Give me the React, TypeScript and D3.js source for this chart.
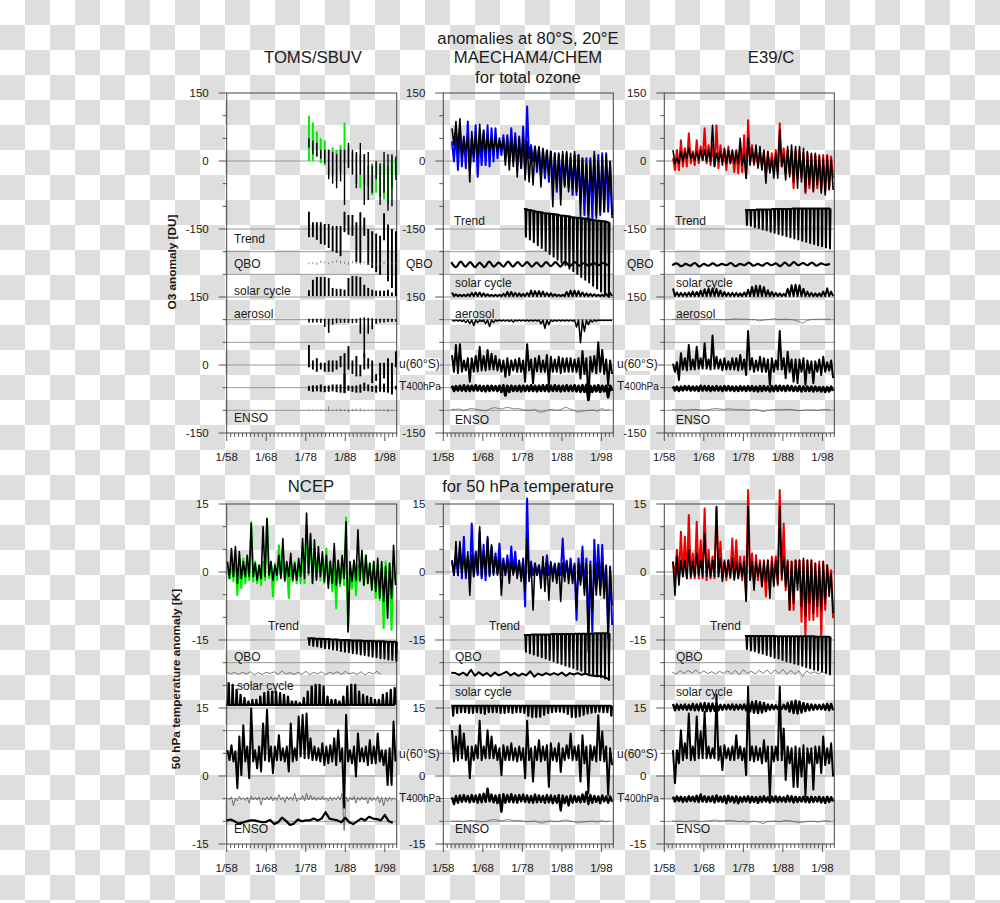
import React from "react";
import * as d3 from "d3";

// ---------- TOMS/SBUV (total ozone, DU) ----------
const tomsObsHi = [100,85,65,50,45,25,30,25,35,85,35,20,15,15,15,-10,-5,-5,-10,-5,-10,10,5];
const tomsObsLo = [0,0,10,-5,-10,-30,-35,-45,-25,-5,-15,-30,-50,-60,-55,-55,-75,-70,-80,-85,-95,-60,-30];
const tomsFitHi = [50,45,40,25,25,25,20,15,25,25,40,25,20,40,15,20,-10,0,-5,20,15,15,10];
const tomsFitLo = [30,15,10,5,-5,-40,-50,-60,-45,-97,-15,-30,-60,-30,-97,-86,-70,-40,-97,-70,-110,-100,-42];
const tomsTrendHi = [-112,-135,-135,-135,-139,-139,-143,-143,-143,-112,-119,-119,-135,-113,-125,-150,-155,-160,-165,-115,-140,-150,-155];
const tomsTrendLo = [-168,-168,-174,-183,-185,-192,-199,-203,-210,-157,-163,-165,-223,-225,-165,-229,-236,-245,-251,-175,-265,-280,-289];
const tomsQboHi = [2,3,2,6,4,2,5,7,6,4,3,6,5,3,5,4,2,1,3,4,5,3,2];
const tomsQboLo = [-2,-1,-3,1,0,-2,1,2,0,-1,-3,0,-1,-3,0,-2,-4,-5,-3,-1,0,-2,-3];
const tomsSolarHi = [-285,-262,-256,-256,-256,-258,-280,-282,-282,-284,-258,-254,-254,-256,-273,-280,-284,-286,-286,-286,-284,-290,-285];
const tomsAerHi = [3,3,3,3,3,3,3,4,3,3,3,3,3,5,6,5,4,3,3,3,3,3,2];
const tomsAerLo = [-5,-5,-5,-6,-15,-28,-10,-7,-6,-6,-6,-7,-6,-30,-81,-30,-20,-8,-6,-5,-4,-4,-3];
const tomsUHi = [44,10,15,5,5,10,10,10,20,26,42,10,20,0,25,15,10,-20,5,5,15,5,30];
const tomsULo = [-5,-10,-15,-10,-15,-15,-15,-10,-5,-62,-10,-20,-25,-25,-10,-8,-40,-35,-45,-30,-30,-65,-5];
const tomsTHi = [5,6,6,8,5,6,8,8,8,32,6,5,6,8,12,8,5,6,8,10,25,30,5];
const tomsTLo = [-6,-8,-7,-8,-9,-8,-7,-9,-10,-10,-6,-8,-10,-10,-6,-7,-8,-10,-8,-9,-10,-8,-3];
const tomsEnsoHi = [1,1,1,1,1,8,1,1,2,1,1,2,3,3,1,1,1,2,1,1,2,1,0];
const tomsEnsoLo = [-1,-1,-1,-1,-2,-3,-2,-2,-3,-3,-5,-2,-2,-3,-3,-2,-1,-2,-2,-3,-5,-3,-1];

// ---------- MAECHAM4/CHEM (total ozone) ----------
const mtObsHi = [43,65,72,54,87,50,79,57,68,79,72,72,50,57,57,72,61,54,76,120,35,32,29,24,21,21,17,17,13,17,6,13,13,6,6,6,13,13,17,17,-1];
const mtObsLo = [-1,-20,-12,-16,-20,-1,-35,-9,-9,-12,-1,6,13,6,-1,-1,-9,-16,-24,6,-1,-24,-31,-38,-46,-53,-68,-46,-53,-60,-75,-75,-90,-119,-134,-126,-119,-119,-112,-112,-119];
const mtFitHi = [72,87,93,50,54,65,61,81,65,57,50,54,46,50,50,50,54,50,54,43,28,32,32,28,24,21,17,13,21,21,17,21,13,6,-5,-1,21,-1,10,13,-1];
const mtFitLo = [35,21,10,21,-46,10,6,21,17,21,21,21,28,-9,-20,-12,-35,-16,-42,-46,-53,-12,-57,-20,-31,-101,-57,-97,-57,-68,-60,-68,-123,-75,-119,-68,-126,-112,-112,-68,-126];
const mtTrendHi = [-106,-108,-110,-112,-113,-115,-116,-117,-118,-120,-121,-122,-124,-125,-126,-127,-128,-130,-131,-132,-133,-135];
const mtTrendLo = [-167,-173,-179,-186,-192,-198,-205,-211,-218,-224,-230,-237,-243,-249,-256,-262,-268,-275,-281,-288,-294,-300];
const mtQbo = [5,-6,6,-5,5,-6,4,-6,6,-5,4,-5,6,-5,5,-4,5,-5,4,-5,5,-4,5,-5,6,-4,5,-3,3,-3,3,-2,3,-2];
const mtSolarHi = [8,4,3,3,4,7,8,8,6,4,3,3,3,5,9,9,7,6,5,7,12,11,11,10,7,6,4,3,3,9,12,12,11,8,6,5,4,3,3,5,7];
const mtAer = [-2,-2,-3,-5,-8,-12,-5,-3,-8,-14,-5,-2,-2,-2,-3,-4,-2,-2,-2,-2,-2,-2,-8,-18,-10,-3,-2,-2,-2,-2,-2,-15,-50,-25,-10,-4,-2,-1,-1,-1,-1];
const mtUHi = [22,44,46,10,15,15,20,40,20,33,25,20,12,10,15,10,12,15,10,46,12,15,20,10,22,18,12,18,15,15,15,12,15,31,15,18,20,50,33,12,10];
const mtULo = [-15,-18,-15,-12,-37,-15,-14,-12,-12,-10,-10,-12,-15,-26,-22,-12,-15,-15,-37,-12,-40,-14,-15,-15,-44,-15,-15,-18,-15,-15,-15,-15,-30,-20,-77,-15,-18,-15,-20,-44,-20];
const mtTHi = [5,4,5,6,5,5,6,5,4,5,5,4,5,6,5,5,4,5,5,5,6,5,5,6,6,5,6,5,5,6,5,6,5,6,7,5,5,6,5,5,5];
const mtTLo = [-6,-5,-5,-6,-6,-5,-5,-6,-7,-6,-5,-6,-8,-16,-8,-6,-6,-7,-6,-6,-6,-7,-6,-6,-7,-6,-6,-7,-6,-6,-6,-7,-8,-8,-26,-8,-7,-8,-7,-20,-6];
const mtEnso = [1,1,2,-1,1,3,2,0,-1,-2,3,5,3,2,6,4,2,3,1,-1,-1,1,-4,-5,-2,1,0,-1,2,6,2,-1,-5,-3,-2,-1,0,-3,3,-1,1];

// ---------- E39/C (total ozone) ----------
const etObsHi = [6,24,46,28,61,21,46,32,72,35,35,79,35,24,32,21,24,32,57,90,35,24,21,21,21,17,24,83,28,24,21,24,21,17,17,13,13,13,13,13,10];
const etObsLo = [-20,-20,-12,-12,-5,-9,-5,2,-5,-9,-12,-16,-1,-20,-5,-24,-27,-24,-38,-1,-9,-12,-16,-31,-20,-24,-24,-12,-24,-27,-60,-38,-38,-71,-60,-64,-60,-64,-68,-60,-38];
const etFitHi = [24,6,21,21,28,17,21,24,24,24,79,17,21,28,24,24,21,50,13,50,28,35,32,24,21,6,17,68,13,32,35,32,32,28,21,17,17,10,6,10,2];
const etFitLo = [-5,-5,-1,6,6,2,2,2,-1,-1,-12,-1,-9,-5,-5,-5,-5,-9,-38,-9,-5,-16,-20,-49,-27,-38,-38,-12,-42,-35,-46,-60,-46,-68,-53,-68,-53,-71,-75,-64,-64];
const etTrendHi = [-108,-108,-108,-107,-107,-107,-107,-106,-106,-106,-106,-106,-105,-105,-105,-105,-105,-105,-105,-105,-105,-105];
const etTrendLo = [-141,-143,-146,-148,-151,-153,-156,-158,-161,-163,-166,-168,-171,-173,-176,-178,-181,-183,-186,-188,-191,-193];
const etQbo = [-2,2,-4,1,-3,3,-5,1,-3,2,-3,1,-2,3,-4,1,-2,4,-3,1,-3,3,-2,2,-4,4,-3,5,-2,3,-2,4,-3,2,-1,1];
const etSolarHi = [17,8,7,7,8,10,9,12,15,17,17,16,12,9,7,7,7,6,8,14,20,23,23,20,13,9,7,6,5,16,24,25,24,16,10,7,6,6,10,17,10];
const etAer = [0,0,0,0,-1,1,0,-1,0,1,0,0,-1,-1,-1,0,1,0,0,0,-1,-1,-4,-2,-1,0,1,-1,0,0,-1,-2,-5,-9,-3,-1,0,0,0,0,0];
const etUHi = [3,6,26,15,44,12,40,15,48,12,65,18,12,15,8,15,15,22,12,75,15,10,18,15,12,15,10,75,15,29,12,12,12,15,10,8,8,12,18,6,10];
const etULo = [-15,-33,-10,-12,-10,-10,-8,-8,-8,-10,-8,-8,-12,-10,-10,-10,-12,-10,-22,-10,-15,-12,-15,-15,-44,-15,-10,-10,-29,-15,-37,-40,-15,-44,-18,-40,-15,-22,-15,-12,-29];
const etTHi = [4,3,3,4,4,3,3,5,4,4,3,4,3,4,4,3,3,4,3,4,4,3,4,4,3,4,5,5,4,5,4,3,4,3,3,3,3,2,2,2,3];
const etTLo = [-5,-6,-5,-4,-5,-5,-6,-5,-5,-6,-5,-5,-6,-5,-5,-6,-6,-5,-6,-5,-6,-7,-6,-5,-7,-6,-6,-5,-6,-5,-6,-6,-7,-6,-6,-7,-6,-7,-8,-7,-6];
const etEnso = [1,0,1,-1,0,1,1,0,-1,0,2,3,2,1,2,2,1,0,1,-1,0,1,-1,-4,-1,0,1,0,1,1,1,0,-2,-1,0,0,0,-1,1,1,0];

// ---------- NCEP (50 hPa temperature, K) ----------
const nbObsHi = [1.5,3,3.7,2.3,3,2.3,11.1,2.3,1.5,2.3,11.8,2.3,1.9,5.9,2.3,1.9,3,2.3,1.5,3.7,10.3,8.1,5.2,3.7,3.7,5.2,2.6,1.5,2.3,2.6,12,1.5,2.6,1.5,3,3.7,1.9,2.3,1.2,1.9,2.3,1.9,2.3];
const nbObsLo = [-1.4,-2.1,-5.1,-3.6,-2.5,-1.8,-2.1,-2.5,-2.9,-1.8,-1.4,-5.4,-1.8,-1,-2.1,-5.8,-2.1,-2.5,-2.5,-2.5,-.7,-2.5,-1.4,-1.8,-2.5,-2.5,-4.3,-8,-3.2,-2.9,-13.2,-3.6,-5.1,-2.1,-2.9,-2.5,-3.2,-5.8,-6.2,-12.4,-7.3,-12.8,-2.1];
const nbFitHi = [2.3,5.2,5.6,4.5,2.3,3.7,10.7,1.9,1.5,10,11.8,2.3,1.5,3.7,7.4,2.3,4.1,1.9,3,7.4,13,8.5,7.1,5.6,4.5,3.7,2.3,6.3,2.6,3.7,11.1,2.3,2.6,9.3,4.8,3.7,1.9,2.3,3,2.3,1.2,1.9,5.9];
const nbFitLo = [-1.4,-1,-2.5,-1.4,-1,-1,-1,-1.8,-1.4,-1,-.7,-1.8,-.7,-1.4,-1.8,-1,-1.8,-1.8,-1,-1.4,-.3,-2.5,-1.8,-1,-2.1,-3.6,-2.5,-2.9,-2.5,-1.4,-13.2,-2.1,-1.8,-1.8,-2.9,-2.5,-4,-4.3,-5.8,-6.5,-10.2,-5.8,-2.9];
const nbTrendHi = [-14.6,-14.6,-14.7,-14.7,-14.8,-14.8,-14.9,-14.9,-15,-15,-15,-15.1,-15.1,-15.1,-15.2,-15.2,-15.2,-15.3,-15.3,-15.3,-15.4,-15.4,-15.4];
const nbTrendLo = [-16.1,-16.3,-16.4,-16.6,-16.8,-16.9,-17.1,-17.2,-17.4,-17.6,-17.7,-17.9,-18,-18.2,-18.3,-18.5,-18.7,-18.8,-19,-19.1,-19.3,-19.4,-19.6];
const nbQbo = [.3,-.2,.2,-.3,.2,-.2,.3,-.4,.1,-.3,.2,-.1,.3,-.3,.5,-.2,.1,-.3,.2,-.3,.4,-.4,.2,-.2,.3,-.4,.2,-.1,.3,-.3,.4,-.2,.1,-.3,.3,-.4,.2,-.2,.4,-.3];
const nbSolarHi = [4.8,4.4,3.3,2.2,1.5,.7,1.1,1.1,1.8,2.6,2.9,2.9,2.9,2.6,2.2,1.8,.7,.7,.4,1.5,2.9,4,4.4,4.4,4,1.8,1.1,1.1,.7,1.8,4,4.4,4.4,2.9,2.2,1.8,1.5,1.1,1.1,2.2,2.6,3.3,3.7];
const nbUHi = [.7,1.8,.4,3.7,6.2,1.5,9.9,.7,1.5,6.6,9.6,1.5,1.5,4,1.1,1.5,6.6,1.1,8.1,8.5,8.8,3.3,1.5,1.1,2.2,1.5,1.8,3.3,5.1,1.1,8.5,.7,1.5,4.4,1.1,1.5,2.9,1.5,4.4,.7,.7,1.1,7];
const nbULo = [-1.5,-1.8,-7.7,-4.8,-1.8,-5.5,-1.8,-3.3,-4,-1.5,-1.8,-4.4,-1.5,-1.5,-1.8,-4,-1.8,-1.5,-.7,-1.1,-1.1,-1.5,-1.5,-1.8,-2.6,-2.2,-1.8,-2.6,-1.8,-12,-1.8,-2.2,-5.1,-1.8,-1.8,-2.6,-2.2,-2.2,-1.8,-2.6,-7,-7,-1.8];
const nbTHi = [.2,.4,.1,.5,.2,.3,.6,.3,.4,.2,.4,.5,.3,.9,.3,.5,.4,1.2,.2,.7,1.2,.8,.4,.3,.5,.2,.4,.3,.5,1.2,.4,.3,.5,.3,.4,.3,.3,.2,.5,.3,.3,.4,.2];
const nbTLo = [-.3,-1.6,-.5,-.3,-.4,-1,-.3,-.3,-1.4,-.3,-.3,-.5,-.4,-.3,-.8,-.3,-.4,-.6,-.3,-.5,-.3,-.3,-.4,-.3,-.3,-.5,-.4,-.3,-.3,-7,-.6,-.3,-1,-.4,-.3,-1.1,-.5,-.4,-.9,-1.6,-.6,-.4,-.3];
const nbEnso = [.2,.4,0,-.5,-.3,0,.2,.2,0,-.2,-.1,.3,-.6,-.2,.8,.1,-.8,-.5,.4,0,.2,.2,.6,.2,.6,2,.6,.4,.2,-.2,.8,-.2,-.6,0,.6,.2,1,.6,.5,.2,1.4,0,-.3];

// ---------- MAECHAM4/CHEM (50 hPa temperature) ----------
const mbObsHi = [2.6,3.7,6,7.8,3.4,10.7,4.5,8.9,6,7.4,5.6,4.1,6.3,3,3.7,5.6,4.5,2.3,3,16.2,2.3,1.9,1.5,1.5,3.7,1.9,1.9,1.9,7.4,2.3,3,1.9,3,5.6,3,2.3,7.1,6,6,1.5,1.2];
const mbObsLo = [-.7,-.7,-1.4,-1.4,-1.4,-1,-.7,-1.4,-1.8,-.7,-.3,-.3,-.7,-.7,-.7,-.3,-.7,-1.4,-7.6,-1.4,-.7,-.7,-1.4,-.7,-.7,-.7,-1.4,-.7,-1,-1.4,-1.4,-10.6,-2.1,-3.6,-13.5,-13.5,-3.2,-3.6,-4.3,-13.5,-11.7];
const mbFitHi = [2.3,6.7,6.7,3.7,4.5,3.7,4.1,10,4.5,7.8,6,3.4,3,2.6,2.6,2.3,1.9,2.6,2.3,7.4,1.9,1.9,1.5,3.4,2.3,2.3,1.5,1.9,1.9,2.6,1.5,1.5,1.9,1.9,1.9,1.5,1.5,1.9,1.9,1.2,.8];
const mbFitLo = [-.7,-.7,-.3,-.7,-5.1,-1,-.3,-1,-.7,-1,-.7,-.7,-5.1,-.7,-2.5,-.7,-1.4,-2.1,-4.3,-2.1,-8.4,-.7,-3.6,-4.3,-6.2,-2.1,-2.5,-6.5,-2.1,-2.5,-2.5,-8,-2.9,-5.1,-17.6,-8.7,-5.1,-5.1,-5.8,-14.6,-7.3];
const mbTrendHi = [-13.9,-13.9,-13.8,-13.8,-13.8,-13.8,-13.8,-13.7,-13.7,-13.7,-13.7,-13.7,-13.7,-13.6,-13.6,-13.6,-13.6,-13.6,-13.5,-13.5,-13.5,-13.5];
const mbTrendLo = [-17.6,-17.9,-18.2,-18.5,-18.8,-19.1,-19.4,-19.7,-20,-20.3,-20.6,-20.9,-21.2,-21.5,-21.8,-22.1,-22.4,-22.7,-23,-23.2,-23.5,-23.8];
const mbQbo = [.3,.2,-.2,.3,-.3,.9,-.4,.4,-.3,.2,-.5,.3,-.3,.1,.5,-.3,.2,-.4,.1,-.3,.6,-.6,.1,-.3,.2,-.2,.2,-.2,.3,-.4,.2,-.1,.2,-.2,.1,-.3,-.4,-.5,-.4,-.8,-1.2];
const mbSolarLo = [-2.2,-1.6,-1.4,-1.4,-1.6,-1.6,-1.4,-1.6,-1.8,-1.4,-1.4,-1.4,-1.6,-1.6,-1.4,-1.6,-1.4,-1.4,-1.6,-2.2,-2.5,-2.5,-2.4,-2,-1.6,-1.4,-1.3,-1.3,-1.4,-1.8,-2.5,-2.5,-2.3,-2,-1.7,-1.5,-1.4,-1.3,-1.4,-1.4,-2.2];
const mbUHi = [5.1,3.7,6.2,4.4,1.5,1.5,1.8,7.2,1.5,5.1,3.7,1.8,1.1,1.8,1.5,2.2,1.1,1.5,1.1,7.2,1.1,1.5,2.9,1.5,1.8,2.2,1.1,2.2,1.1,1.8,4.4,1.5,1.8,4,1.5,1.8,1.5,8.4,4.8,1.5,1.1];
const mbULo = [-1.8,-1.5,-1.1,-1.5,-5.5,-1.5,-1.1,-1.5,-1.1,-1.1,-1.1,-1.5,-4.8,-1.5,-1.5,-1.5,-1.8,-1.5,-5.5,-1.5,-6.2,-1.5,-1.8,-1.5,-7.4,-1.5,-1.8,-4.1,-1.5,-1.1,-1.5,-1.5,-6.2,-2.2,-8.8,-1.5,-1.8,-1.5,-1.8,-9.2,-2.6];
const mbTHi = [.3,.6,.7,.8,.6,.8,.7,.9,1.1,2.2,.9,.7,.8,1,.8,1,.7,.8,.9,.7,.6,.9,.7,.6,.8,.7,.6,.8,.7,.5,.7,.6,.5,.9,1.5,.8,.6,.5,.7,.5,.5];
const mbTLo = [-1.2,-.9,-.7,-.6,-.8,-.7,-.9,-.8,-.7,-.6,-.8,-1,-2.9,-.9,-.7,-.8,-.9,-.6,-.7,-.8,-.9,-.8,-.7,-.9,-.8,-1,-.9,-2.6,-1,-1.5,-.9,-.7,-.8,-.7,-1.2,-.9,-.7,-1,-.6,-.9,-.7];
const mbEnso = [.1,0,.1,-.1,.1,.2,.1,0,-.1,0,.3,.4,.2,.1,.4,.3,.1,.2,.1,-.1,0,.1,-.2,-.4,-.1,.1,0,-.1,.2,.3,.1,-.1,-.3,-.2,-.1,0,0,-.2,.2,-.1,.1];

// ---------- E39/C (50 hPa temperature) ----------
const ebObsHi = [2.3,4.9,8.9,7.8,12.6,4.1,11.1,7,14,4.9,3.4,14.4,6.7,2.6,2.6,7.4,7,3.4,3.4,18.1,4.1,3.7,2.6,2.6,2.6,3.4,3.4,18.1,10.7,2.6,2.3,2.6,2.6,2.6,2.6,2.6,1.9,2.3,2.3,1.5,.4];
const ebObsLo = [-1.4,-1.4,-1,-1.4,-1.4,-1.4,-1.4,-1.4,-1.8,-1.4,-1.4,-1,-1.4,-1.8,-1.4,-1.4,-1.4,-1.8,-6.2,-1.8,-2.5,-1.8,-3.2,-5.4,-4,-1.8,-2.9,-1.8,-4,-8.4,-8.4,-2.5,-11,-13.9,-10.6,-10.6,-9.8,-14.3,-8.4,-3.2,-10.2];
const ebFitHi = [2.3,3.4,2.6,2.6,4.9,2.3,4.1,2.6,8.5,2.6,2.6,14.4,3,2.3,2.6,3,2.3,1.9,2.3,14.4,2.3,2.3,1.9,2.3,2.6,2.3,2.6,14.4,3.4,2.3,2.3,2.6,2.6,3,2.6,2.6,1.9,1.5,2.3,1.5,-.3];
const ebFitLo = [-5.1,-2.9,-1,-1.4,-1,-1,-.7,-1,-1,-1,-1,-1,-2.1,-1,-1,-1.8,-1.4,-1,-6.5,-1.8,-4,-1,-3.2,-2.1,-5.8,-3.2,-2.5,-1.4,-3.2,-8.4,-6.9,-4,-7.6,-9.8,-6.9,-9.1,-7.6,-8.4,-6.9,-5.4,-9.1];
const ebTrendHi = [-14.1,-14.1,-14.1,-14.1,-14.1,-14.1,-14.1,-14.1,-14.2,-14.2,-14.2,-14.2,-14.2,-14.2,-14.2,-14.2,-14.2,-14.2,-14.3,-14.3,-14.3,-14.3];
const ebTrendLo = [-17,-17.3,-17.5,-17.8,-18,-18.3,-18.6,-18.9,-19.1,-19.4,-19.7,-19.9,-20.2,-20.4,-20.7,-21,-21.2,-21.5,-21.7,-22,-22.3,-22.6];
const ebQbo = [.1,-.3,.4,-.2,.5,-.1,.6,-.2,.4,-.2,.2,-.3,.3,-.2,.4,-.3,.5,-.5,.7,-.2,.3,-.3,.5,-.2,.6,-.3,.6,-.2,.7,-.4,.5,-.3,.4,-.8,.4,-.2,.2,-.3,.2,-.2];
const ebSolarHi = [.7,.6,.5,.6,.5,.7,.6,.8,.9,.8,.8,.7,.5,.5,.5,.6,.5,.5,.6,.9,1.2,1.3,1.1,.9,.6,.5,.4,.4,.5,.9,1.2,1.4,1.2,.9,.7,.6,.5,.5,.6,.7,.7];
const ebSolarLo = [-.7,-.6,-.5,-.6,-.6,-.7,-.7,-.8,-.9,-.9,-.8,-.7,-.6,-.5,-.5,-.6,-.5,-.5,-.7,-1,-1.2,-1.3,-1.2,-.9,-.6,-.5,-.4,-.4,-.5,-1,-1.3,-1.4,-1.2,-.9,-.7,-.6,-.5,-.5,-.6,-.7,-.7];
const ebUHi = [.7,.7,5.1,2.2,8.8,1.5,8.1,4.8,9.2,1.5,1.1,12.9,1.5,1.8,1.1,1.5,4,1.5,1.1,14.7,1.5,1.5,1.1,2.9,1.5,1.5,1.5,14.7,5.5,1.5,1.1,1.5,1.1,1.8,1.1,1.1,1.5,1.5,3.7,1.1,2.2];
const ebULo = [-6.6,-2.2,-1.5,-1.1,-1.5,-1.5,-1.1,-1.1,-1.1,-1.1,-1.1,-1.5,-3.7,-1.1,-1.5,-1.5,-1.1,-1.5,-4.8,-1.5,-1.8,-1.5,-2.2,-1.8,-9.5,-1.8,-1.5,-1.5,-5.9,-2.2,-7.4,-7.4,-5.1,-9.5,-2.2,-8,-2.2,-4.4,-2.6,-2.2,-5.1];
const ebTHi = [.4,.5,.4,.3,.5,.4,.6,.9,.5,.4,.5,.7,.4,.5,.6,.4,.5,.3,.4,.5,.4,.3,.4,.5,.3,.4,.5,.4,.3,.6,.5,.4,.3,.4,.3,.4,.3,.4,.3,.4,.3];
const ebTLo = [-.6,-.5,-.7,-.6,-.5,-.6,-.7,-.6,-.7,-.6,-.8,-.6,-.7,-1,-.6,-.8,-1,-.7,-.6,-.8,-.7,-.9,-.7,-.6,-.8,-.6,-.7,-.6,-.7,-.6,-.8,-.7,-.6,-.7,-.8,-.7,-.6,-.8,-.9,-.7,-.6];
const ebEnso = [.1,0,.1,-.1,0,.1,.1,-.1,0,.1,.2,.3,.1,.1,.2,.2,.1,-.1,.1,-.2,-.1,0,-.2,-.5,-.1,0,.1,-.1,.1,.2,.1,-.1,-.3,-.2,-.1,0,0,-.2,.1,.1,0];

// ---------- axis text ----------
const yearTicks = [1958, 1968, 1978, 1988, 1998];
const yearLabels = ["1/58", "1/68", "1/78", "1/88", "1/98"];
const ozoneTickLabels = ["150", "0", "-150", "150", "0", "-150"];
const tempTickLabels = ["15", "0", "-15", "15", "0", "-15"];

type Series = { start: number; hi: number[]; lo?: number[] | number; base?: number; w: number; color?: string; mode?: "zig" | "bar" | "up" | "down" | "broken" | "line"; step?: number; smooth?: boolean };
type Label = { t: string; x: number; y: number };

const INK = "#000";
const THIN = "#555";

function tomsSeries(): Series[] {
  const s = 1978.3;
  return [
    { start: s, hi: tomsObsHi, lo: tomsObsLo, w: 2, color: "#00ee00", mode: "broken" },
    { start: s, hi: tomsFitHi, lo: tomsFitLo, w: 1.4, mode: "broken" },
    { start: s, hi: tomsTrendHi, lo: tomsTrendLo, w: 1.9, mode: "broken" },
    { start: s, hi: tomsQboHi, lo: tomsQboLo, base: -226, w: 0.7, color: THIN, mode: "broken" },
    { start: s, hi: tomsSolarHi, lo: -298, w: 1.9, mode: "broken" },
    { start: s, hi: tomsAerHi, lo: tomsAerLo, base: -351, w: 1.6, mode: "broken" },
    { start: s, hi: tomsUHi, lo: tomsULo, base: -450, w: 1.9, mode: "broken" },
    { start: s, hi: tomsTHi, lo: tomsTLo, base: -501, w: 2, mode: "broken" },
    { start: s, hi: tomsEnsoHi, lo: tomsEnsoLo, base: -549, w: 0.7, color: THIN, mode: "broken" },
  ];
}
function modelTop(c: string, o: number[][], f: number[][], tr: number[][], q: number[], qStep: number, solar: Series, aer: Series, u: number[][], tt: number[][], enso: number[], qw: number, tw: number): Series[] {
  const s = 1960;
  return [
    { start: s, hi: o[0], lo: o[1], w: 2, color: c },
    { start: s, hi: f[0], lo: f[1], w: 1.6 },
    { start: 1978.4, hi: tr[0], lo: tr[1], w: 2, mode: "down" },
    { start: s, hi: q, base: -228, w: qw, mode: "line", step: qStep, smooth: true },
    solar, aer,
    { start: s, hi: u[0], lo: u[1], base: -450, w: 2 },
    { start: s, hi: tt[0], lo: tt[1], base: -501, w: tw },
    { start: s, hi: enso, base: -549, w: 0.7, color: THIN, mode: "line" },
  ];
}

const panelsTop: { x: number; labels: Label[]; series: Series[] }[] = [
  { x: 226.7, series: tomsSeries(), labels: [
    { t: "Trend", x: 234, y: 239 }, { t: "QBO", x: 234, y: 264 }, { t: "solar cycle", x: 234, y: 291 }, { t: "aerosol", x: 234, y: 314 }, { t: "ENSO", x: 234, y: 418 },
  ] },
  { x: 443.3, series: modelTop("#0000ee", [mtObsHi, mtObsLo], [mtFitHi, mtFitLo], [mtTrendHi, mtTrendLo], mtQbo, 1.2,
      { start: 1960, hi: mtSolarHi, lo: 0, base: -298, w: 2 },
      { start: 1960, hi: mtAer.map(() => 0), lo: mtAer, base: -351, w: 1.5 },
      [mtUHi, mtULo], [mtTHi, mtTLo], mtEnso, 2.2, 2.8), labels: [
    { t: "Trend", x: 454, y: 221 }, { t: "QBO", x: 406, y: 264 }, { t: "solar cycle", x: 455, y: 283 }, { t: "aerosol", x: 455, y: 314 }, { t: "ENSO", x: 455, y: 420 },
  ] },
  { x: 664.3, series: modelTop("#ee0000", [etObsHi, etObsLo], [etFitHi, etFitLo], [etTrendHi, etTrendLo], etQbo, 1.14,
      { start: 1960, hi: etSolarHi, lo: 0, base: -298, w: 2 },
      { start: 1960, hi: etAer, base: -349, w: 0.7, color: THIN, mode: "line" },
      [etUHi, etULo], [etTHi, etTLo], etEnso, 2.2, 2.8), labels: [
    { t: "Trend", x: 675, y: 221 }, { t: "QBO", x: 627, y: 264 }, { t: "solar cycle", x: 676, y: 283 }, { t: "aerosol", x: 676, y: 314 }, { t: "ENSO", x: 676, y: 420 },
  ] },
];

const panelsBottom: { x: number; labels: Label[]; series: Series[] }[] = [
  { x: 226.7, series: [
    { start: 1958, hi: nbObsHi, lo: nbObsLo, w: 2, color: "#00ee00" },
    { start: 1958, hi: nbFitHi, lo: nbFitLo, w: 1.6 },
    { start: 1978.4, hi: nbTrendHi, lo: nbTrendLo, w: 2, mode: "down" },
    { start: 1958, hi: nbQbo, base: -22.3, w: 0.8, color: THIN, mode: "line" },
    { start: 1958, hi: nbSolarHi, lo: 0, base: -29.3, w: 2.3, mode: "up" },
    { start: 1958, hi: nbUHi, lo: nbULo, base: -40, w: 2 },
    { start: 1958, hi: nbTHi, lo: nbTLo, base: -50, w: 0.8, color: THIN },
    { start: 1958, hi: nbEnso, base: -55, w: 2.2, mode: "line" },
  ], labels: [
    { t: "Trend", x: 268, y: 626 }, { t: "QBO", x: 234, y: 657 }, { t: "solar cycle", x: 237, y: 686 }, { t: "ENSO", x: 234, y: 829 },
  ] },
  { x: 443.3, series: [
    { start: 1960, hi: mbObsHi, lo: mbObsLo, w: 2, color: "#0000ee" },
    { start: 1960, hi: mbFitHi, lo: mbFitLo, w: 1.6 },
    { start: 1978.4, hi: mbTrendHi, lo: mbTrendLo, w: 2, mode: "down" },
    { start: 1960, hi: mbQbo, base: -22.5, w: 2, mode: "line" },
    { start: 1960, hi: mbSolarLo.map(() => 0), lo: mbSolarLo, base: -29.5, w: 2.2, mode: "down" },
    { start: 1960, hi: mbUHi, lo: mbULo, base: -40, w: 2 },
    { start: 1960, hi: mbTHi, lo: mbTLo, base: -50, w: 2.4 },
    { start: 1960, hi: mbEnso, base: -55, w: 0.7, color: THIN, mode: "line" },
  ], labels: [
    { t: "Trend", x: 489, y: 626 }, { t: "QBO", x: 455, y: 657 }, { t: "solar cycle", x: 455, y: 692 }, { t: "ENSO", x: 455, y: 829 },
  ] },
  { x: 664.3, series: [
    { start: 1960, hi: ebObsHi, lo: ebObsLo, w: 2, color: "#ee0000" },
    { start: 1960, hi: ebFitHi, lo: ebFitLo, w: 1.6 },
    { start: 1978.4, hi: ebTrendHi, lo: ebTrendLo, w: 2, mode: "down" },
    { start: 1960, hi: ebQbo, base: -22.2, w: 0.8, color: THIN, mode: "line" },
    { start: 1960, hi: ebSolarHi, lo: ebSolarLo, base: -29.8, w: 2.4 },
    { start: 1960, hi: ebUHi, lo: ebULo, base: -40, w: 2 },
    { start: 1960, hi: ebTHi, lo: ebTLo, base: -50, w: 2.6 },
    { start: 1960, hi: ebEnso, base: -55, w: 0.7, color: THIN, mode: "line" },
  ], labels: [
    { t: "Trend", x: 710, y: 626 }, { t: "QBO", x: 676, y: 657 }, { t: "solar cycle", x: 676, y: 692 }, { t: "ENSO", x: 676, y: 829 },
  ] },
];

const sideLabelX = [399, 617];

const W = 170;
const FONT = "'Liberation Sans', Arial, sans-serif";
const TXT = "#1a1a1a";
const x0 = d3.scaleLinear().domain([1958, 2001]).range([0, W]);
const lineGen = d3.line<[number, number]>().x((d) => d[0]).y((d) => d[1]);
const smoothGen = d3.line<[number, number]>().x((d) => d[0]).y((d) => d[1]).curve(d3.curveCatmullRom);

function points(s: Series, y: (v: number) => number): [number, number][][] {
  const base = s.base ?? 0;
  const step = s.step ?? 1;
  const loAt = (i: number) => (typeof s.lo === "number" ? s.lo : s.lo ? s.lo[i] : 0);
  const P = (t: number, v: number): [number, number] => [x0(t), y(v + base)];
  const mode = s.mode ?? "zig";
  if (mode === "line") return [s.hi.map((v, i) => P(s.start + i * step, v))];
  if (mode === "broken") return s.hi.map((v, i) => [P(s.start + i + 0.5, v), P(s.start + i + 0.5, loAt(i))]);
  const out: [number, number][] = [];
  s.hi.forEach((v, i) => {
    const t = s.start + i;
    const l = loAt(i);
    if (mode === "zig") out.push(P(t + 0.2, v), P(t + 0.7, l));
    if (mode === "down") out.push(P(t, v), P(t + 0.35, v), P(t + 0.5, l), P(t + 0.65, v));
    if (mode === "up") out.push(P(t, l), P(t + 0.35, l), P(t + 0.5, v), P(t + 0.65, l));
  });
  return [out];
}

function Panel({ px, top, max, series, tickLabels }: { px: number; top: number; max: number; series: Series[]; tickLabels: string[] }) {
  const unit = max / 3; // one tick spacing in data units
  const y = d3.scaleLinear().domain([max, -4 * max]).range([top, top + 340]);
  const ticks = d3.range(16).map((i) => max - i * unit);
  return (
    <g transform={`translate(${px},0)`}>
      {ticks.map((v, i) => {
        const major = i % 3 === 0;
        const yy = y(v);
        const grid = i === 3 || i >= 6;
        return (
          <g key={i}>
            <line x1={major ? -8 : -4} x2={0} y1={yy} y2={yy} stroke="#555" strokeWidth={1} />
            {grid && i < 15 && <line x1={0} x2={W} y1={yy} y2={yy} stroke="#999" strokeWidth={1} />}
            {major && <text x={-18} y={yy} dy="0.36em" textAnchor="end" fontSize={11.5} fontFamily={FONT} fill={TXT}>{tickLabels[i / 3]}</text>}
          </g>
        );
      })}
      <rect x={0} y={top} width={W} height={340} fill="none" stroke="#444" strokeWidth={1} />
      {d3.range(1958, 2002).map((yr) => {
        const major = yearTicks.includes(yr);
        return <line key={yr} x1={x0(yr)} x2={x0(yr)} y1={top + 340} y2={top + 340 + (major ? 8 : 4)} stroke="#555" strokeWidth={1} />;
      })}
      {yearTicks.map((yr, i) => (
        <text key={yr} x={x0(yr)} y={top + 368} textAnchor="middle" fontSize={11.5} fontFamily={FONT} fill={TXT}>{yearLabels[i]}</text>
      ))}
      {series.map((s, i) =>
        points(s, y).map((pts, j) => (
          <path key={`${i}-${j}`} d={(s.smooth ? smoothGen(pts) : lineGen(pts)) ?? ""} fill="none" stroke={s.color ?? INK} strokeWidth={s.w} strokeLinejoin="round" />
        ))
      )}
    </g>
  );
}

function T400({ x, y }: { x: number; y: number }) {
  return (
    <text x={x} y={y} fontSize={12} fontFamily={FONT} fill={TXT} dy="0.36em">
      T<tspan fontSize={10}>400hPa</tspan>
    </text>
  );
}

function Title({ x, y, t }: { x: number; y: number; t: string }) {
  return <text x={x} y={y} dy="0.36em" textAnchor="middle" fontSize={16.7} fontFamily={FONT} fill={TXT}>{t}</text>;
}

export default function App() {
  return (
    <svg width={1000} height={903} style={{ position: "absolute", left: 0, top: 0 }}>
      <defs>
        <pattern id="chk" width={50} height={50} patternUnits="userSpaceOnUse">
          <rect width={50} height={50} fill="#fff" />
          <rect x={25} y={0} width={25} height={25} fill="#dedede" />
          <rect x={0} y={25} width={25} height={25} fill="#dedede" />
        </pattern>
      </defs>
      <rect width={1000} height={903} fill="url(#chk)" />
      <Title x={528} y={38} t="anomalies at 80°S, 20°E" />
      <Title x={313} y={57} t="TOMS/SBUV" />
      <Title x={528} y={57} t="MAECHAM4/CHEM" />
      <Title x={528} y={77} t="for total ozone" />
      <Title x={771} y={57} t="E39/C" />
      <Title x={311} y={486} t="NCEP" />
      <Title x={528} y={486} t="for 50 hPa temperature" />
      {panelsTop.map((p, i) => (
        <Panel key={i} px={p.x} top={93} max={150} series={p.series} tickLabels={ozoneTickLabels} />
      ))}
      {panelsBottom.map((p, i) => (
        <Panel key={i} px={p.x} top={504} max={15} series={p.series} tickLabels={tempTickLabels} />
      ))}
      {[...panelsTop, ...panelsBottom].flatMap((p, i) =>
        p.labels.map((l, j) => (
          <text key={`${i}-${j}`} x={l.x} y={l.y} dy="0.36em" fontSize={12} fontFamily={FONT} fill={TXT}>{l.t}</text>
        ))
      )}
      {sideLabelX.flatMap((x) => [
        <rect key={`b${x}`} x={x} y={358} width={41} height={13} fill="#fff" />,
        <text key={`u1${x}`} x={x} y={364} dy="0.36em" fontSize={12} fontFamily={FONT} fill={TXT}>u(60°S)</text>,
        <T400 key={`t1${x}`} x={x} y={386} />,
        <text key={`u2${x}`} x={x} y={754} dy="0.36em" fontSize={12} fontFamily={FONT} fill={TXT}>u(60°S)</text>,
        <T400 key={`t2${x}`} x={x} y={798} />,
      ])}
      <text transform="translate(172,262) rotate(-90)" textAnchor="middle" dy="0.36em" fontSize={11.8} fontWeight="bold" fontFamily={FONT} fill={TXT}>O3 anomaly [DU]</text>
      <text transform="translate(176,679) rotate(-90)" textAnchor="middle" dy="0.36em" fontSize={11.8} fontWeight="bold" fontFamily={FONT} fill={TXT}>50 hPa temperature anomaly [K]</text>
    </svg>
  );
}
